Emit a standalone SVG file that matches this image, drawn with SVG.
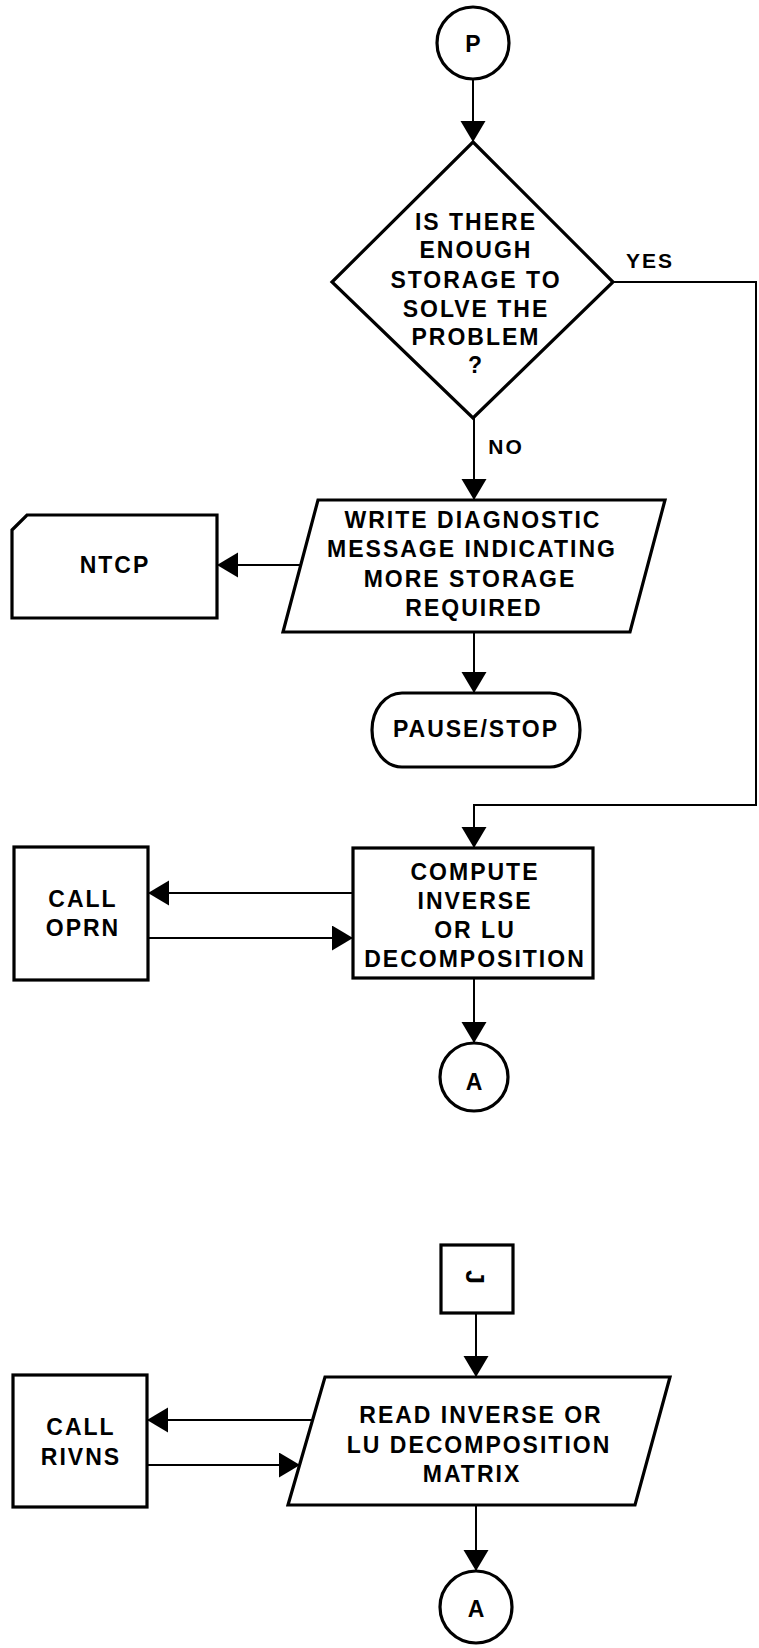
<svg xmlns="http://www.w3.org/2000/svg" width="759" height="1648" viewBox="0 0 759 1648">
<style>
.shape{fill:#fff;stroke:#000;stroke-width:3.2;stroke-linejoin:miter}
.conn{fill:none;stroke:#000;stroke-width:2}
text{font-family:"Liberation Sans",Arial,sans-serif;font-weight:bold;font-size:23px;letter-spacing:2px;fill:#000;text-anchor:middle}
.lbl{font-size:21px}
.j{font-size:25px;letter-spacing:0}
</style>
<defs>
<marker id="ah" markerUnits="userSpaceOnUse" markerWidth="22" markerHeight="26" refX="21" refY="12.5" orient="auto">
<path d="M0,0 L21,12.5 L0,25 Z" fill="#000"/>
</marker>
</defs>
<rect width="759" height="1648" fill="#fff"/>

<g id="connectors">
<line class="conn" x1="473" y1="79" x2="473" y2="142" marker-end="url(#ah)"/>
<line class="conn" x1="474" y1="418" x2="474" y2="500" marker-end="url(#ah)"/>
<path class="conn" d="M613,282 H756 V805 H474 V848" marker-end="url(#ah)"/>
<line class="conn" x1="301" y1="565" x2="217" y2="565" marker-end="url(#ah)"/>
<line class="conn" x1="474" y1="632" x2="474" y2="693" marker-end="url(#ah)"/>
<line class="conn" x1="353" y1="893" x2="148" y2="893" marker-end="url(#ah)"/>
<line class="conn" x1="148" y1="938" x2="353" y2="938" marker-end="url(#ah)"/>
<line class="conn" x1="474" y1="978" x2="474" y2="1043" marker-end="url(#ah)"/>
<line class="conn" x1="476" y1="1313" x2="476" y2="1377" marker-end="url(#ah)"/>
<line class="conn" x1="313" y1="1420" x2="147" y2="1420" marker-end="url(#ah)"/>
<line class="conn" x1="147" y1="1465" x2="300" y2="1465" marker-end="url(#ah)"/>
<line class="conn" x1="476" y1="1505" x2="476" y2="1571" marker-end="url(#ah)"/>
<text class="lbl" x="650" y="268">YES</text>
<text class="lbl" x="506" y="454">NO</text>
</g>

<g id="node-p">
<circle class="shape" cx="473" cy="43" r="36"/>
<text x="474" y="52">P</text>
</g>

<g id="node-decision">
<polygon class="shape" points="473,142 613,282 473,418 332,282"/>
<text x="476" y="230">IS THERE</text>
<text x="476" y="258">ENOUGH</text>
<text x="476" y="288">STORAGE TO</text>
<text x="476" y="317">SOLVE THE</text>
<text x="476" y="345">PROBLEM</text>
<text x="476" y="373">?</text>
</g>

<g id="node-write">
<polygon class="shape" points="318,500 665,500 630,632 283,632"/>
<text x="473" y="528">WRITE DIAGNOSTIC</text>
<text x="472" y="557">MESSAGE INDICATING</text>
<text x="470" y="587">MORE STORAGE</text>
<text x="474" y="616">REQUIRED</text>
</g>

<g id="node-ntcp">
<path class="shape" d="M12,530 L27,515 L217,515 L217,618 L12,618 Z"/>
<text x="115" y="573">NTCP</text>
</g>

<g id="node-pause">
<rect class="shape" x="372" y="693" width="208" height="74" rx="30" ry="37"/>
<text x="476" y="737">PAUSE/STOP</text>
</g>

<g id="node-compute">
<rect class="shape" x="353" y="848" width="240" height="130"/>
<text x="475" y="880">COMPUTE</text>
<text x="475" y="909">INVERSE</text>
<text x="475" y="938">OR LU</text>
<text x="475" y="967">DECOMPOSITION</text>
</g>

<g id="node-oprn">
<rect class="shape" x="14" y="847" width="134" height="133"/>
<text x="83" y="907">CALL</text>
<text x="83" y="936">OPRN</text>
</g>

<g id="node-a1">
<circle class="shape" cx="474" cy="1077" r="34"/>
<text x="475" y="1090">A</text>
</g>

<g id="node-j">
<rect class="shape" x="441" y="1245" width="72" height="68"/>
<text class="j" x="0" y="0" transform="translate(466,1277) rotate(90)">J</text>
</g>

<g id="node-read">
<polygon class="shape" points="325,1377 670,1377 635,1505 288,1505"/>
<text x="481" y="1423">READ INVERSE OR</text>
<text x="479" y="1453">LU DECOMPOSITION</text>
<text x="472" y="1482">MATRIX</text>
</g>

<g id="node-rivns">
<rect class="shape" x="13" y="1375" width="134" height="132"/>
<text x="81" y="1435">CALL</text>
<text x="81" y="1465">RIVNS</text>
</g>

<g id="node-a2">
<circle class="shape" cx="476" cy="1607" r="36"/>
<text x="477" y="1617">A</text>
</g>
</svg>
